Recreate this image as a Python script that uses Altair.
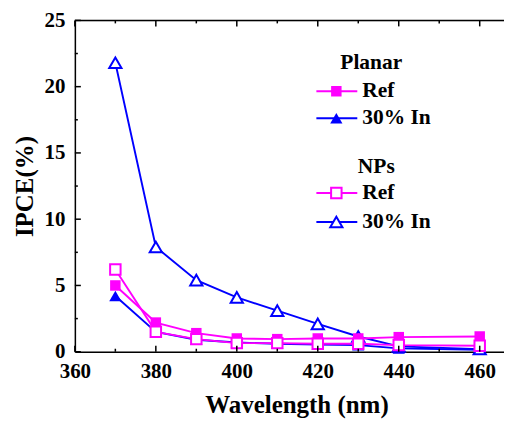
import altair as alt
import pandas as pd

# ---- data ----
wavelength = [370, 380, 390, 400, 410, 420, 430, 440, 460]
planar_ref = [5.0, 2.2, 1.4, 1.0, 0.95, 1.0, 1.0, 1.1, 1.15]
planar_in = [4.2, 1.5, 0.9, 0.7, 0.6, 0.55, 0.5, 0.25, 0.15]
nps_ref = [6.2, 1.5, 0.95, 0.65, 0.65, 0.6, 0.6, 0.5, 0.45]
nps_in = [21.8, 7.9, 5.4, 4.1, 3.1, 2.1, 1.15, 0.4, 0.2]

x_major = [360, 380, 400, 420, 440, 460]
x_minor = [370, 390, 410, 430, 450]
y_major = [0, 5, 10, 15, 20, 25]
y_minor = [2.5, 7.5, 12.5, 17.5, 22.5]

MAGENTA = "#ff00ff"
BLUE = "#0000ff"
FONT = "Times New Roman, Liberation Serif, DejaVu Serif, serif"
W, H = 430, 332
SQ = 110
TRI = 150
LW = 1.9

xscale = alt.Scale(domain=[360, 466], nice=False, zero=False)
yscale = alt.Scale(domain=[0, 25], nice=False)

xaxis = alt.Axis(values=x_major, ticks=False, tickSize=0, grid=False, domainColor="black",
                 domainWidth=1.5, labelFont=FONT, labelFontSize=21, labelFontWeight="bold",
                 labelColor="black", labelPadding=9, labelFlush=False, labelOverlap=False,
                 title="Wavelength (nm)", titleFont=FONT,
                 titleFontSize=25, titleFontWeight="bold", titleColor="black", titlePadding=11,
                 titleX=222, format="d")
yaxis = alt.Axis(values=y_major, ticks=False, tickSize=0, grid=False, domainColor="black",
                 domainWidth=1.5, labelFont=FONT, labelFontSize=21, labelFontWeight="bold",
                 labelColor="black", labelPadding=10, labelFlush=False, labelOverlap=False,
                 title="IPCE(%)", titleFont=FONT,
                 titleFontSize=25, titleFontWeight="bold", titleColor="black", titlePadding=6)

X = lambda: alt.X("x:Q", scale=xscale, axis=xaxis)
Y = lambda: alt.Y("y:Q", scale=yscale, axis=yaxis)


def series(vals, color, shape, filled):
    df = pd.DataFrame({"x": wavelength, "y": vals})
    size = SQ if shape == "square" else TRI
    line = alt.Chart(df).mark_line(color=color, strokeWidth=LW).encode(x=X(), y=Y())
    if filled:
        pts = alt.Chart(df).mark_point(shape=shape, filled=True, fill=color, color=color,
                                       size=size, opacity=1).encode(x=X(), y=Y())
    else:
        pts = alt.Chart(df).mark_point(shape=shape, filled=False, fill="white", fillOpacity=1,
                                       stroke=color, strokeWidth=2, size=size, opacity=1).encode(x=X(), y=Y())
    return [line, pts]


layers = []
layers += series(planar_in, BLUE, "triangle-up", True)
layers += series(nps_in, BLUE, "triangle-up", False)
layers += series(planar_ref, MAGENTA, "square", True)
layers += series(nps_ref, MAGENTA, "square", False)


# ---- inward ticks ----
def xticks(vals, length):
    df = pd.DataFrame({"x": vals})
    bottom = alt.Chart(df).mark_rule(color="black", strokeWidth=1.5).encode(
        x=X(), y=alt.value(H), y2=alt.value(H - length))
    top = alt.Chart(df).mark_rule(color="black", strokeWidth=1.5).encode(
        x=X(), y=alt.value(0), y2=alt.value(length))
    return [bottom, top]


def yticks(vals, length):
    df = pd.DataFrame({"y": vals})
    return [alt.Chart(df).mark_rule(color="black", strokeWidth=1.5).encode(
        y=Y(), x=alt.value(0), x2=alt.value(length))]


layers += xticks(x_major, 6) + xticks(x_minor, 3)
layers += yticks(y_major, 6) + yticks(y_minor, 3)

one = pd.DataFrame({"k": [0]})
# top frame line
layers.append(alt.Chart(one).mark_rule(color="black", strokeWidth=1.5).encode(
    x=alt.value(0), x2=alt.value(W), y=alt.value(0)))


# ---- manual legend ----
def legend_title(text, cx, cy):
    return alt.Chart(one).mark_text(text=text, font=FONT, fontSize=21.5, fontWeight="bold",
                                    color="black", align="center", baseline="middle").encode(
        x=alt.value(cx), y=alt.value(cy))


def legend_row(label, cy, color, shape, filled):
    size = SQ if shape == "square" else TRI
    ln = alt.Chart(one).mark_rule(color=color, strokeWidth=LW).encode(
        x=alt.value(242), x2=alt.value(283), y=alt.value(cy))
    if filled:
        pt = alt.Chart(one).mark_point(shape=shape, filled=True, fill=color, color=color,
                                       size=size, opacity=1).encode(x=alt.value(262), y=alt.value(cy))
    else:
        pt = alt.Chart(one).mark_point(shape=shape, filled=False, fill="white", fillOpacity=1,
                                       stroke=color, strokeWidth=2, size=size, opacity=1).encode(
            x=alt.value(262), y=alt.value(cy))
    tx = alt.Chart(one).mark_text(text=label, font=FONT, fontSize=21.5, fontWeight="bold",
                                  color="black", align="left", baseline="middle").encode(
        x=alt.value(288), y=alt.value(cy))
    return [ln, pt, tx]


layers.append(legend_title("Planar", 297, 43))
layers += legend_row("Ref", 71, MAGENTA, "square", True)
layers += legend_row("30% In", 98, BLUE, "triangle-up", True)
layers.append(legend_title("NPs", 302, 147))
layers += legend_row("Ref", 173, MAGENTA, "square", False)
layers += legend_row("30% In", 202, BLUE, "triangle-up", False)

chart = alt.layer(*layers).properties(
    width=W, height=H,
    autosize=alt.AutoSizeParams(type="none"),
    padding={"left": 67, "top": 12, "right": 0, "bottom": 70},
).configure_view(stroke=None).configure(background="white")

chart.save("out.html", embed_options={"renderer": "svg", "actions": False})
